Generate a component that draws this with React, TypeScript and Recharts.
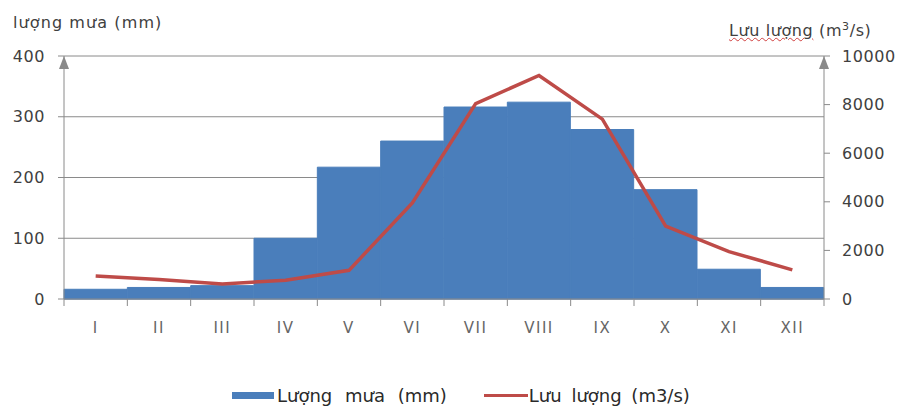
import { Bar, CartesianGrid, ComposedChart, Line, XAxis, YAxis } from "recharts"

const months = ["I", "II", "III", "IV", "V", "VI", "VII", "VIII", "IX", "X", "XI", "XII"]
const rainfall = [16, 19, 22, 100, 217, 260, 316, 324, 279, 180, 49, 19]
const discharge = [950, 800, 620, 770, 1180, 3950, 8040, 9200, 7400, 3000, 1950, 1200]
const rainTicks = [0, 100, 200, 300, 400]
const flowTicks = [0, 2000, 4000, 6000, 8000, 10000]

const W = 899
const H = 414
const LEFT_W = 64
const RIGHT_W = 75
const STEP = (W - LEFT_W - RIGHT_W) / months.length

const FONT = "'DejaVu Sans', sans-serif"
const AXIS = "#8a8a8a"
const BLUE = "#4a7ebb"
const RED = "#be4b48"

const data = months.map((m, i) => ({ m, rain: rainfall[i], flow: discharge[i] }))

// category labels with tick marks sitting on the band edges, Excel style
function MonthTick(props: any) {
  const { x, y, payload, index } = props
  const half = STEP / 2
  return (
    <g>
      <line x1={x - half} x2={x - half} y1={y} y2={y + 7} stroke={AXIS} />
      {index === months.length - 1 && <line x1={x + half} x2={x + half} y1={y} y2={y + 7} stroke={AXIS} />}
      <text x={x} y={y + 34} textAnchor="middle" fill="#666" fontSize={15} fontFamily={FONT} letterSpacing={1.5}>
        {payload.value}
      </text>
    </g>
  )
}

const tickStyle = { fill: "#404040", fontSize: 16, fontFamily: FONT, letterSpacing: 0.6 }

export default function App() {
  return (
    <div style={{ position: "absolute", left: 0, top: 0, width: W, height: H, background: "#fff", fontFamily: FONT }}>
      <div style={{ position: "absolute", left: 13, top: 13, fontSize: 16, letterSpacing: 1.1, color: "#404040" }}>
        lượng mưa (mm)
      </div>
      <div
        style={{
          position: "absolute",
          left: 729,
          top: 20,
          fontSize: 16,
          letterSpacing: 0.6,
          color: "#404040",
          whiteSpace: "nowrap",
        }}
      >
        <span style={{ textDecoration: "underline wavy #d04040", textDecorationThickness: 1 }}>Lưu lượng</span> (m
        <sup style={{ fontSize: 11 }}>3</sup>/s)
      </div>

      <ComposedChart
        width={W}
        height={H}
        data={data}
        margin={{ top: 56, right: 0, bottom: 70, left: 0 }}
        barCategoryGap={0}
        barGap={0}
      >
        <defs>
          <marker
            id="axArrow"
            viewBox="0 0 13 10"
            refX={13}
            refY={5}
            markerWidth={13}
            markerHeight={10}
            markerUnits="userSpaceOnUse"
            orient="auto-start-reverse"
          >
            <path d="M0,0 L13,5 L0,10 z" fill={AXIS} />
          </marker>
        </defs>
        <CartesianGrid yAxisId="left" vertical={false} stroke={AXIS} />
        <XAxis
          dataKey="m"
          height={45}
          axisLine={{ stroke: AXIS }}
          tickLine={false}
          tickSize={0}
          tickMargin={0}
          interval={0}
          tick={<MonthTick />}
        />
        <YAxis
          yAxisId="left"
          width={LEFT_W}
          domain={[0, 400]}
          ticks={rainTicks}
          axisLine={{ stroke: AXIS, markerStart: "url(#axArrow)" }}
          tickLine={{ stroke: AXIS }}
          tickSize={6}
          tickMargin={13}
          tick={tickStyle}
        />
        <YAxis
          yAxisId="right"
          orientation="right"
          width={RIGHT_W}
          domain={[0, 10000]}
          ticks={flowTicks}
          axisLine={{ stroke: AXIS, markerStart: "url(#axArrow)" }}
          tickLine={{ stroke: AXIS }}
          tickSize={6}
          tickMargin={12}
          tick={tickStyle}
        />
        <Bar yAxisId="left" dataKey="rain" fill={BLUE} stroke={BLUE} strokeWidth={1} isAnimationActive={false} />
        <Line
          yAxisId="right"
          dataKey="flow"
          type="linear"
          stroke={RED}
          strokeWidth={3.5}
          dot={false}
          isAnimationActive={false}
        />
      </ComposedChart>

      <div
        style={{
          position: "absolute",
          left: 232,
          top: 385,
          display: "flex",
          alignItems: "center",
          fontSize: 18,
          color: "#2a2a2a",
        }}
      >
        <span style={{ width: 42, height: 7, background: BLUE, marginRight: 3 }} />
        <span style={{ wordSpacing: 7 }}>Lượng mưa (mm)</span>
        <span style={{ width: 44, height: 3, background: RED, marginLeft: 37, marginRight: 1 }} />
        <span style={{ wordSpacing: 4 }}>Lưu lượng (m3/s)</span>
      </div>
    </div>
  )
}
